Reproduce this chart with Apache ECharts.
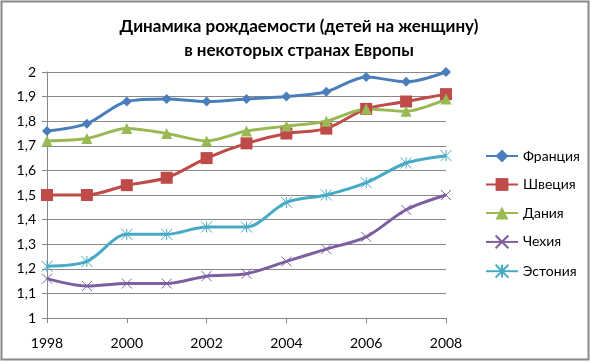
<!DOCTYPE html>
<html><head><meta charset="utf-8">
<script src="https://cdn.jsdelivr.net/npm/echarts@6/dist/echarts.min.js"></script>
<style>html,body{margin:0;padding:0;background:#fff}#c{width:591px;height:362px}</style>
</head><body><div id="c"></div>
<script>
const years = ['1998','1999','2000','2001','2002','2003','2004','2005','2006','2007','2008'];
const france  = [1.76,1.79,1.88,1.89,1.88,1.89,1.90,1.92,1.98,1.96,2.00];
const sweden  = [1.50,1.50,1.54,1.57,1.65,1.71,1.75,1.77,1.85,1.88,1.91];
const denmark = [1.72,1.73,1.77,1.75,1.72,1.76,1.78,1.80,1.85,1.84,1.89];
const czech   = [1.16,1.13,1.14,1.14,1.17,1.18,1.23,1.28,1.33,1.44,1.50];
const estonia = [1.21,1.23,1.34,1.34,1.37,1.37,1.47,1.50,1.55,1.63,1.66];
const names = ['Франция','Швеция','Дания','Чехия','Эстония'];
const colors = ['#4A7EBB','#BE4B48','#98B954','#7D5FA0','#46AAC5'];
const symbols = ['diamond','rect','triangle','path://M0,0L10,10M10,0L0,10','path://M0,0L10,10M10,0L0,10M5,0L5,10'];
const sizes = [10,12,11,10,11];
const data = [france,sweden,denmark,czech,estonia];
const font = 'Lato, "Open Sans", sans-serif';
const chart = echarts.init(document.getElementById('c'));
chart.setOption({
  animation:false,
  title:{text:'Динамика рождаемости (детей на женщину)\nв некоторых странах Европы',left:294,top:10,textAlign:'center',
    textStyle:{fontFamily:font,fontSize:17,fontWeight:'bold',color:'#000',lineHeight:24}},
  graphic:[{type:'rect',shape:{x:1.5,y:1.5,width:587,height:358},style:{fill:'none',stroke:'#888',lineWidth:2}}],
  grid:{left:47,right:145,top:72,bottom:44},
  legend:{orient:'vertical',left:480,top:144,itemGap:14.5,itemWidth:32,itemHeight:16,
    textStyle:{fontFamily:font,fontSize:14,color:'#000'},data:names},
  xAxis:{type:'category',data:years,boundaryGap:false,
    axisLine:{lineStyle:{color:'#888'}},
    axisTick:{interval:1,length:5,lineStyle:{color:'#888'}},
    axisLabel:{interval:1,fontFamily:font,fontSize:14,color:'#000',margin:18}},
  yAxis:{type:'value',min:1,max:2,interval:0.1,
    axisLine:{show:true,lineStyle:{color:'#888'}},
    axisTick:{show:true,length:5,lineStyle:{color:'#888'}},
    splitLine:{lineStyle:{color:'#888'}},
    axisLabel:{fontFamily:font,fontSize:14,color:'#000',margin:11,
      formatter:v=>String(Math.round(v*10)/10).replace('.',',')}},
  series:data.map((d,i)=>({name:names[i],type:'line',data:d,smooth:0.3,
    symbol:symbols[i],symbolSize:sizes[i],showSymbol:true,
    lineStyle:{color:colors[i],width:3},
    itemStyle:{color:colors[i],borderColor:colors[i],borderWidth:i>=3?1:0}}))
});
</script></body></html>
